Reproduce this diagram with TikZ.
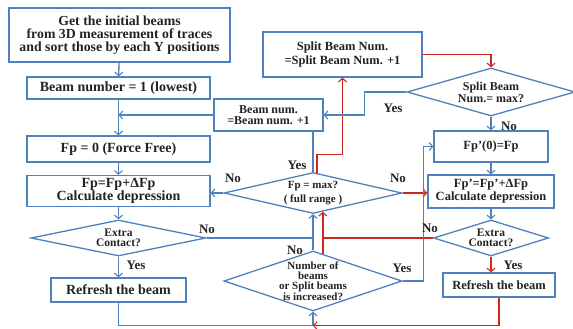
\documentclass[tikz,border=0pt]{standalone}
\usepackage{fontspec}
\setmainfont{Liberation Serif}
\usetikzlibrary{shapes.geometric,calc,arrows.meta}
\definecolor{lineblue}{RGB}{79,129,189}
\definecolor{linered}{RGB}{204,40,30}
\definecolor{inkgray}{RGB}{35,35,35}
\tikzset{
	x=1pt, y=-1pt, % one unit is one pixel of the drawing, y runs downwards
	stepbox/.style={rectangle, draw=lineblue, line width=1.3pt, fill=white, inner sep=0pt, align=center, text=inkgray, font=\bfseries\fontsize{14}{12.5}\selectfont},
	rightbox/.style={stepbox, font=\bfseries\fontsize{12.5}{13}\selectfont},
	smallbox/.style={stepbox, font=\bfseries\fontsize{12}{11}\selectfont},
	decision/.style={diamond, draw=lineblue, line width=1.3pt, fill=white, inner sep=0pt}, % the text goes in a centred label
	dtext/.style={align=center, inner sep=0pt, text=inkgray, font=\bfseries\fontsize{11.5}{10.5}\selectfont},
	lbl/.style={inner sep=0pt, text=inkgray, font=\bfseries\fontsize{13}{13}\selectfont}
}

\begin{document}
\begin{tikzpicture}[
            bline/.style={lineblue, line width=1.3pt},
            rline/.style={linered, line width=1.3pt},
            barrow/.style={bline, -{Straight Barb[length=3.5pt,width=8pt,line width=1.1pt]}},
            rarrow/.style={rline, -{Straight Barb[length=3.5pt,width=8pt,line width=1.1pt]}}
        ]
            \useasboundingbox (0,0) rectangle (573,329);
            \node[stepbox, minimum width=221pt, minimum height=54pt, font=\bfseries\fontsize{13.8}{13.2}\selectfont] (G) at (119.5,35) {Get the initial beams\\from 3D measurement of traces\\and sort those by each Y positions};
            \node[stepbox, minimum width=183pt, minimum height=22pt] (BN) at (118.5,88) {Beam number = 1 (lowest)};
            \node[stepbox, minimum width=183pt, minimum height=26pt] (F0) at (118.5,149) {Fp = 0 (Force Free)};
            \node[stepbox, minimum width=183pt, minimum height=31pt] (FI) at (118.5,191) {Fp=Fp+ΔFp\\Calculate depression};
            \node[decision, minimum width=175pt, minimum height=36pt, label={[dtext]center:{Extra\\Contact?}}] (EL) at (118.5,238) {};
            \node[stepbox, minimum width=135pt, minimum height=24pt] (RL) at (118.5,290) {Refresh the beam};
            \node[smallbox, minimum width=109pt, minimum height=32pt] (BNUM) at (268.5,115) {Beam num.\\=Beam num. +1};
            \node[smallbox, minimum width=159pt, minimum height=45pt, font=\bfseries\fontsize{12.5}{14}\selectfont] (SP) at (342.5,54.5) {Split Beam Num.\\=Split Beam Num. +1};
            \node[decision, minimum width=168pt, minimum height=48pt, label={[dtext, font=\bfseries\fontsize{12}{12}\selectfont]center:{Split Beam\\Num.= max?}}] (DS) at (491,92) {};
            \node[rightbox, minimum width=114pt, minimum height=31pt] (FZ) at (491,146.5) {Fp'(0)=Fp};
            \node[rightbox, minimum width=126pt, minimum height=33pt] (FR) at (491,191.5) {Fp'=Fp'+ΔFp\\Calculate depression};
            \node[decision, minimum width=115pt, minimum height=36pt, label={[dtext]center:{Extra\\Contact?}}] (ER) at (491,238) {};
            \node[rightbox, minimum width=112pt, minimum height=24pt] (RR) at (499,285) {Refresh the beam};
            \node[decision, minimum width=178pt, minimum height=41pt, label={[dtext, font=\bfseries\fontsize{11}{14}\selectfont]center:{Fp = max?\\( full range )}}] (DM) at (313,193) {};
            \node[decision, minimum width=178pt, minimum height=60pt, label={[dtext, font=\bfseries\fontsize{11}{10.2}\selectfont]center:{Number of\\beams\\or Split beams\\is increased?}}] (DN) at (313,281) {};
            \coordinate (jB) at ($(DN.south)+(0,14)$);
            \coordinate (jR) at ($(DM.south)!0.11!(DM.east)$);
            \draw[barrow] (G) -- (BN);
            \draw[barrow] (BN) -- (F0);
            \draw[barrow] (BNUM.west) -- (BNUM.west -| BN.south);
            \draw[barrow] (F0) -- (FI);
            \draw[barrow] (FI) -- (EL);
            \draw[barrow] (EL) -- (RL);
            \draw[barrow] (RL) |- (jB) -- (DN.south);
            \draw[bline] (EL.east) -- (EL.east -| DN.north);
            \draw[barrow] (DN.north) -- (DM.south);
            \draw[barrow] (DM.west) -- (DM.west -| FI.east);
            \draw[bline] (DM.north) -- (DM.north |- BNUM.south);
            \draw[rarrow] ($(DM.north)!0.045!(DM.east)$) -- ++(0,-18) -| (SP.south);
            \draw[rarrow] (SP.east) -| (DS.north);
            \draw[barrow] (DS.west) -- ++(-42,0) |- (BNUM.east);
            \draw[barrow] (DS) -- (FZ);
            \draw[barrow] (FZ) -- (FR);
            \draw[barrow] (FR) -- (ER);
            \draw[rarrow] (ER.south) -- (ER.south |- RR.north);
            \draw[rarrow] (RR.south) |- (jB);
            \draw[rarrow] ($(DN.north)!0.11!(DN.east)$) -- (jR);
            \draw[rline] (ER.west) -- (ER.west -| jR);
            \draw[rarrow] (DM.east) -- (DM.east -| FR.west);
            \draw[barrow] (DN.east) -- ++(21,0) |- (FZ.west);
            \node[lbl] (nEL) at (207,229) {No};
            \node[lbl] (yEL) at (136,265) {Yes};
            \node[lbl] (nDM) at (233,178) {No};
            \node[lbl] (yDM) at (297,165) {Yes};
            \node[lbl] (nDN) at (295,250) {No};
            \node[lbl] (nDMr) at (398,178) {No};
            \node[lbl] (yDN) at (402,268) {Yes};
            \node[lbl] (yDS) at (393,108) {Yes};
            \node[lbl] (nDS) at (509,126) {No};
            \node[lbl] (nER) at (430,228) {No};
            \node[lbl] (yER) at (513,265) {Yes};
        \end{tikzpicture}
\end{document}
